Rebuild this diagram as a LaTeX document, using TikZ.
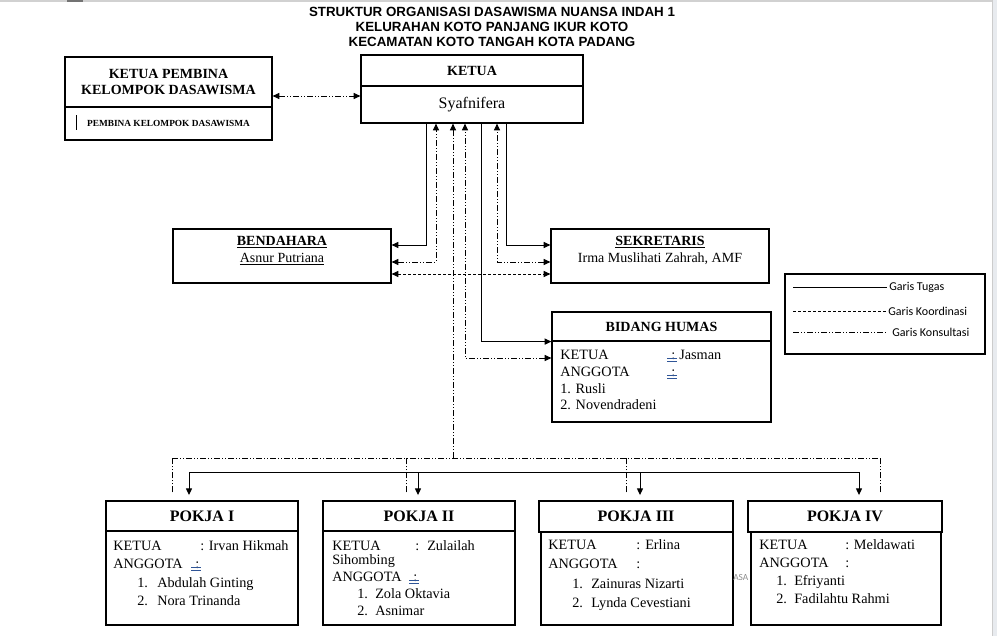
\documentclass[tikz,border=0pt]{standalone}
\usepackage{fontspec}
\setmainfont{Liberation Serif}
\newfontfamily\arialfont{Liberation Sans}
\newfontfamily\calibrifont{Carlito}
\usetikzlibrary{arrows.meta}
\usetikzlibrary{positioning}

\definecolor{tandabiru}{HTML}{2F5597}
\definecolor{tepi}{HTML}{E8EBEF}

\tikzset{
  kotak/.style={draw,line width=0.9pt,inner sep=0pt,align=center},
  tugas/.style={line width=0.75pt},
  koordinasi/.style={line width=0.75pt,dash pattern=on 2.25pt off 1.5pt},
  konsultasi/.style={line width=0.75pt,dash pattern=on 4.5pt off 1.5pt on 0.75pt off 1.5pt on 0.75pt off 1.5pt},
  isi/.style={anchor=base west,inner sep=0pt,font=\fontsize{10.7}{13}\selectfont},
  legen/.style={anchor=west,inner sep=0pt,font=\calibrifont\fontsize{9}{10}\selectfont},
  biru/.style={line width=0.6pt,draw=tandabiru},
}

% titik dua dengan garis biru ganda di bawahnya
\newcommand{\titikdua}[3]{%
  \node[isi] (#1) at (#2,#3) {:};
  \draw[biru] (#2-4,#3-1) -- (#2+6,#3-1) (#2-4,#3+2.5) -- (#2+6,#3+2.5);}

\begin{document}
\begin{tikzpicture}[x=0.75pt,y=-0.75pt,>={Triangle[length=5pt,width=4.5pt]}]
\useasboundingbox (0,0) rectangle (997,636);
% tepi layar
\fill[black!18] (0,0) rectangle (997,1.5);
\fill[black!55] (67,0) rectangle (83,1.5);
\fill[tepi] (992,0) rectangle (997,636);
\draw[black!20] (992,0) -- (992,636);

% judul
\node[align=center,font=\arialfont\bfseries\fontsize{10}{11.25}\selectfont] (judul) at (492,27)
  {STRUKTUR ORGANISASI DASAWISMA NUANSA INDAH 1\\KELURAHAN KOTO PANJANG IKUR KOTO\\KECAMATAN KOTO TANGAH KOTA PADANG};

% ketua
\node[kotak,minimum width=166.5pt,minimum height=23.25pt,font=\bfseries\fontsize{10.5}{12}\selectfont] (ketuaA) at (472,70.5) {KETUA};
\node[kotak,minimum width=166.5pt,minimum height=27.75pt,font=\fontsize{12}{14}\selectfont] (ketuaB) at (472,104.5) {Syafnifera};

% pembina
\node[kotak,minimum width=155.25pt,minimum height=37.5pt,font=\bfseries\fontsize{10.5}{12}\selectfont] (pembA) at (168.5,82) {KETUA PEMBINA\\KELOMPOK DASAWISMA};
\node[kotak,minimum width=155.25pt,minimum height=24.75pt,font=\bfseries\fontsize{7}{8}\selectfont] (pembB) at (168.5,123.5) {PEMBINA KELOMPOK DASAWISMA};
\draw[line width=0.6pt] (76,115) -- (76,130);

% bendahara dan sekretaris
\node[kotak,minimum width=163.5pt,minimum height=40.5pt] (bend) at (282,256) {};
\node[below=5.5pt of bend.north,inner sep=0pt,align=center,font=\fontsize{10.5}{12.75}\selectfont] (bendT)
  {\textbf{\underline{BENDAHARA}}\\\underline{Asnur Putriana}};
\node[kotak,minimum width=163.5pt,minimum height=40.5pt] (sekr) at (660,256) {};
\node[below=5.5pt of sekr.north,inner sep=0pt,align=center,font=\fontsize{10.5}{12.75}\selectfont] (sekrT)
  {\textbf{\underline{SEKRETARIS}}\\Irma Muslihati Zahrah, AMF};

% bidang humas
\node[kotak,minimum width=164.25pt,minimum height=21.75pt,font=\bfseries\fontsize{10.5}{12}\selectfont] (humasA) at (661.5,326.5) {BIDANG HUMAS};
\node[kotak,minimum width=164.25pt,minimum height=60.75pt] (humasB) at (661.5,381.5) {};
\node[isi] (hk) at (560,359) {KETUA};
\titikdua{hkt}{671}{359}
\node[isi] (hkn) at (679,359) {Jasman};
\node[isi] (ha) at (560,376) {ANGGOTA};
\titikdua{hat}{671}{376}
\node[isi] (h1) at (560,393) {1. Rusli};
\node[isi] (h2) at (560,409) {2. Novendradeni};

% keterangan
\node[kotak,minimum width=150pt,minimum height=60pt] (legenda) at (885,314) {};
\node[legen] (lgT) at (889,287) {Garis Tugas};
\node[legen] (lgK) at (888,311) {Garis Koordinasi};
\node[legen] (lgS) at (892,332) {Garis Konsultasi};
\draw[tugas] (793,0 |- lgT.west) -- ([xshift=-1.5pt]lgT.west);
\draw[koordinasi] (793,0 |- lgK.west) -- ([xshift=-1.5pt]lgK.west);
\draw[konsultasi] (793,0 |- lgS.west) -- ([xshift=-5pt]lgS.west);

% pokja
\node[kotak,minimum width=144pt,minimum height=22.5pt,font=\bfseries\fontsize{12}{14}\selectfont] (p1A) at (202,516) {POKJA I};
\node[kotak,minimum width=144pt,minimum height=70.5pt] (p1B) at (202,578) {};
\node[kotak,minimum width=144pt,minimum height=22.5pt,font=\bfseries\fontsize{12}{14}\selectfont] (p2A) at (419,516) {POKJA II};
\node[kotak,minimum width=144pt,minimum height=70.5pt] (p2B) at (419,578) {};
\node[kotak,minimum width=145.5pt,minimum height=23.25pt,font=\bfseries\fontsize{12}{14}\selectfont] (p3A) at (636,516.5) {POKJA III};
\node[kotak,minimum width=144pt,minimum height=69.75pt] (p3B) at (637,578.5) {};
\node[kotak,minimum width=145.5pt,minimum height=23.25pt,font=\bfseries\fontsize{12}{14}\selectfont] (p4A) at (845,516.5) {POKJA IV};
\node[kotak,minimum width=142.5pt,minimum height=69.75pt] (p4B) at (846,578.5) {};

% isi pokja I
\node[isi] (p1k) at (113,550) {KETUA};
\node[isi] (p1kn) at (200,550) {: Irvan Hikmah};
\node[isi] (p1a) at (113,568) {ANGGOTA};
\titikdua{p1at}{195}{568}
\node[isi] (p1n1) at (137,587) {1.};
\node[isi] (p1m1) at (157,587) {Abdulah Ginting};
\node[isi] (p1n2) at (137,605) {2.};
\node[isi] (p1m2) at (157,605) {Nora Trinanda};
% isi pokja II
\node[isi] (p2k) at (332,550) {KETUA};
\node[isi] (p2kt) at (415,550) {:};
\node[isi] (p2kn) at (427,550) {Zulailah};
\node[isi] (p2kn2) at (332,564) {Sihombing};
\node[isi] (p2a) at (332,581) {ANGGOTA};
\titikdua{p2at}{413}{581}
\node[isi] (p2n1) at (357,598) {1.};
\node[isi] (p2m1) at (375,598) {Zola Oktavia};
\node[isi] (p2n2) at (357,615) {2.};
\node[isi] (p2m2) at (375,615) {Asnimar};
% isi pokja III
\node[isi] (p3k) at (548,549) {KETUA};
\node[isi] (p3kt) at (636,549) {:};
\node[isi] (p3kn) at (645,549) {Erlina};
\node[isi] (p3a) at (548,568) {ANGGOTA};
\node[isi] (p3at) at (636,568) {:};
\node[isi] (p3n1) at (572,588) {1.};
\node[isi] (p3m1) at (591,588) {Zainuras Nizarti};
\node[isi] (p3n2) at (572,607) {2.};
\node[isi] (p3m2) at (591,607) {Lynda Cevestiani};
\node[anchor=west,inner sep=0pt,text=black!45,font=\calibrifont\fontsize{7}{8}\selectfont] (asa) at (733,577) {ASA};
% isi pokja IV
\node[isi] (p4k) at (759,549) {KETUA};
\node[isi] (p4kn) at (845,549) {: Meldawati};
\node[isi] (p4a) at (759,567) {ANGGOTA};
\node[isi] (p4at) at (845,567) {:};
\node[isi] (p4n1) at (776,585) {1.};
\node[isi] (p4m1) at (794,585) {Efriyanti};
\node[isi] (p4n2) at (776,603) {2.};
\node[isi] (p4m2) at (794,603) {Fadilahtu Rahmi};

% garis tugas
\draw[tugas,->] (426,0 |- ketuaB.south) |- (bend.east |- 0,245);
\draw[tugas,->] (506,0 |- ketuaB.south) |- (sekr.west |- 0,245);
\draw[tugas,->] (481,0 |- ketuaB.south) |- (humasA.south west);
\coordinate (bagi) at (189,472);
\draw[tugas] (bagi) -- (859,0 |- bagi);
\foreach \x/\p in {189/p1A,418/p2A,640/p3A,859/p4A}
  \draw[tugas,->,shorten >=4pt] (\x,0 |- bagi) -- (\x,0 |- \p.north);

% garis koordinasi
\draw[koordinasi,<->] (bend.east |- 0,274) -- (sekr.west |- 0,274);

% garis konsultasi
\draw[konsultasi,<->] (pembA.east |- 0,96) -- (ketuaB.west |- 0,96);
\draw[konsultasi,<->] (bend.east |- 0,262) -| (436,0 |- ketuaB.south);
\draw[konsultasi,<->] (sekr.west |- 0,262) -| (497,0 |- ketuaB.south);
\draw[konsultasi,<->] (humasB.west |- 0,358) -| (465,0 |- ketuaB.south);
\coordinate (simpul) at (453,458);
\draw[konsultasi,->] (simpul) -- (453,0 |- ketuaB.south);
\draw[konsultasi] (172,0 |- simpul) -- (880,0 |- simpul);
\foreach \x/\p in {172/p1A,406/p2A,626/p3A,880/p4A}
  \draw[konsultasi] (\x,0 |- \p.north) ++(0,-8) -- (\x,0 |- simpul);
\end{tikzpicture}
\end{document}
